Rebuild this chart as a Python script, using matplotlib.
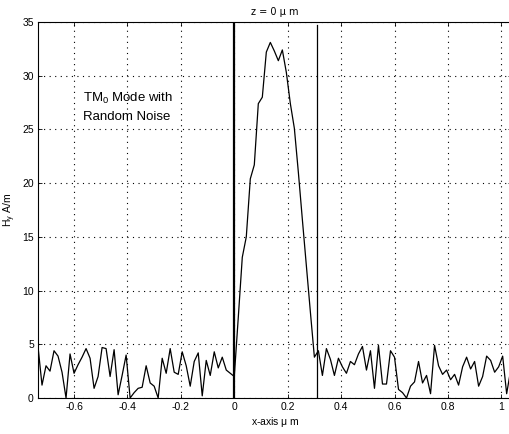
import numpy as np
import matplotlib
matplotlib.use('Agg')
import matplotlib.pyplot as plt

plt.rcParams['font.family'] = ['Liberation Sans', 'DejaVu Sans']
plt.rcParams['mathtext.fontset'] = 'custom'
plt.rcParams['mathtext.rm'] = 'Liberation Sans'
plt.rcParams['mathtext.it'] = 'Liberation Sans:italic'

# sample spacing of the field data (um)
x_step = 0.015
x_start = -0.735

# noise left of the guide (x = -0.735 .. -0.015)
hy_left = [4.8, 1.2, 3.0, 2.5, 4.4, 3.9, 2.4, 0.0, 4.1, 2.3,
           3.1, 3.8, 4.6, 3.7, 0.9, 2.0, 4.7, 4.6, 2.0, 4.5,
           0.3, 2.1, 4.0, 0.0, 0.5, 0.9, 1.0, 3.0, 1.4, 1.1,
           0.0, 3.7, 2.3, 4.6, 2.4, 2.2, 4.3, 3.0, 1.1, 3.4,
           4.2, 0.2, 3.5, 2.1, 4.3, 2.8, 3.8, 2.6, 2.3]
# TM0 mode inside the guide (x = 0 .. 0.285)
hy_mode = [2.0, 7.5, 13.1, 15.0, 20.4, 21.7, 27.4, 28.0, 32.2, 33.1,
           32.3, 31.4, 32.4, 30.3, 27.4, 25.1, 21.0, 16.6, 12.3, 8.0]
# noise right of the guide (x = 0.30 .. 1.035)
hy_right = [3.8, 4.4, 2.1, 4.6, 3.6, 2.1, 3.7, 2.9, 2.3, 3.4,
            3.1, 4.1, 4.8, 2.6, 4.4, 0.9, 4.9, 1.3, 1.3, 4.4,
            3.8, 0.8, 0.5, 0.0, 1.1, 1.5, 3.4, 1.4, 2.1, 0.4,
            4.9, 3.0, 2.2, 2.6, 1.7, 2.2, 1.2, 2.9, 3.8, 2.7,
            3.4, 1.1, 2.0, 3.9, 3.5, 2.4, 2.9, 3.9, 0.4, 2.6]

hy = np.array(hy_left + hy_mode + hy_right)
x = x_start + x_step * np.arange(len(hy))

# guide boundaries
edge_left = 0.0
edge_right = 0.31

fig = plt.figure(figsize=(5.10, 4.34), dpi=100)
ax = fig.add_axes([38 / 510, 1 - 398 / 434, 474 / 510, 376 / 434])

ax.plot(x, hy, color='black', linewidth=0.9)
ax.plot([edge_left, edge_left], [0, 35], color='black', linewidth=1.6)
ax.plot([edge_right, edge_right], [0, 34.7], color='black', linewidth=0.9)

ax.set_xlim(-0.735, 1.04)
ax.set_ylim(0, 35)
ax.set_xticks([-0.6, -0.4, -0.2, 0, 0.2, 0.4, 0.6, 0.8, 1.0])
ax.set_xticklabels(['-0.6', '-0.4', '-0.2', '0', '0.2', '0.4', '0.6', '0.8', '1'])
ax.set_yticks(range(0, 36, 5))
ax.tick_params(direction='in', length=3, labelsize=7.5, top=True, right=True,
               width=0.6, pad=3)
ax.grid(True, color='black', linestyle=(0, (1, 4)), linewidth=0.8)
for s in ax.spines.values():
    s.set_linewidth(0.8)

ax.set_xlabel(r'x-axis $\mathrm{\mu}$ m', fontsize=7.5, labelpad=2)
ax.set_ylabel(r'H$_\mathrm{y}$ A/m', fontsize=7.5, labelpad=3)
ax.set_title('z = 0 µ m', fontsize=7, family='DejaVu Sans', pad=5)

ax.text(-0.566, 27.1, 'TM$_\\mathrm{0}$ Mode with\nRandom Noise', fontsize=9.5,
        ha='left', va='center', linespacing=1.6)

fig.savefig('out.png', dpi=100)
